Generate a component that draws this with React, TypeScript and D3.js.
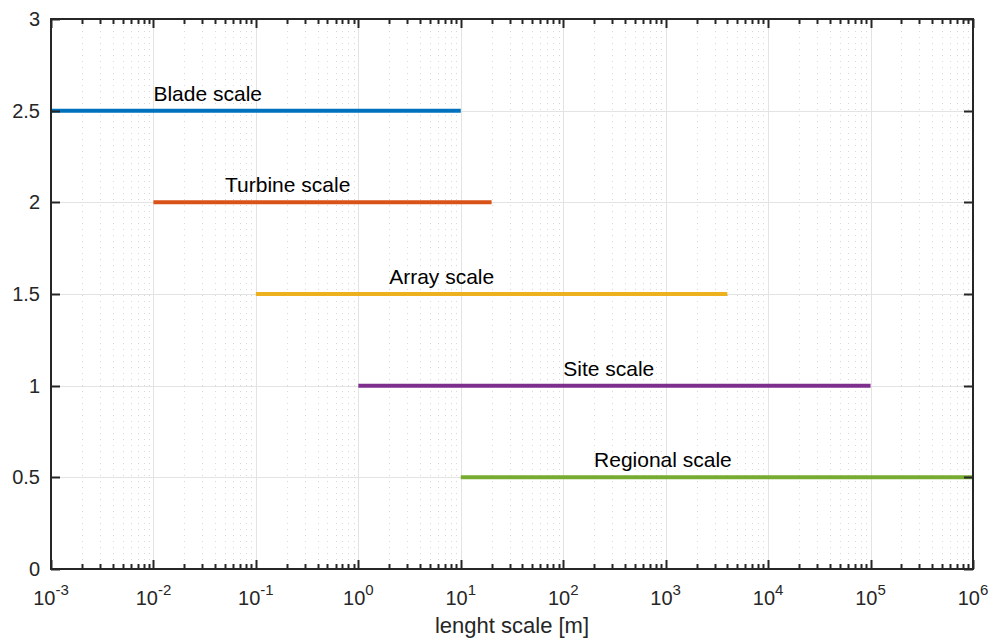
import * as d3 from "d3";
import React from "react";

// values
const scaleNames = ["Blade scale", "Turbine scale", "Array scale", "Site scale", "Regional scale"];
const levels = [2.5, 2, 1.5, 1, 0.5];
const startM = [1e-3, 1e-2, 1e-1, 1, 10];
const endM = [10, 20, 4000, 1e5, 1e6];
const labelAt = [0.01, 0.05, 2, 100, 200];
const colors = ["#0072BD", "#D95319", "#EDB120", "#7E2F8E", "#77AC30"];
const yTicks = [0, 0.5, 1, 1.5, 2, 2.5, 3];
const decades = [-3, -2, -1, 0, 1, 2, 3, 4, 5, 6];

const W = 991;
const H = 639;
const margin = { top: 19, right: 18, bottom: 70, left: 51 };
const font = "'Liberation Sans', Arial, sans-serif";

export default function App() {
	const x = d3
		.scaleLog()
		.domain([1e-3, 1e6])
		.range([margin.left, W - margin.right]);
	const y = d3
		.scaleLinear()
		.domain([0, 3])
		.range([H - margin.bottom, margin.top]);

	const x0 = margin.left;
	const x1 = W - margin.right;
	const y0 = H - margin.bottom;
	const y1 = margin.top;

	const minors: number[] = [];
	decades.slice(0, -1).forEach((e) => {
		for (let k = 2; k <= 9; k++) minors.push(k * Math.pow(10, e));
	});

	return (
		<svg
			width={W}
			height={H}
			style={{ position: "absolute", left: 0, top: 0, background: "#fff" }}
			fontFamily={font}
		>
			{/* minor grid */}
			<g stroke="#d8d8d8" strokeWidth={1} strokeDasharray="1,5">
				{minors.map((m) => (
					<line key={m} x1={Math.round(x(m)) + 0.5} x2={Math.round(x(m)) + 0.5} y1={y1} y2={y0} />
				))}
			</g>
			{/* major grid */}
			<g stroke="#e3e3e3" strokeWidth={1}>
				{decades.map((e) => (
					<line key={e} x1={Math.round(x(Math.pow(10, e))) + 0.5} x2={Math.round(x(Math.pow(10, e))) + 0.5} y1={y1} y2={y0} />
				))}
				{yTicks.map((t) => (
					<line key={t} x1={x0} x2={x1} y1={Math.round(y(t)) + 0.5} y2={Math.round(y(t)) + 0.5} />
				))}
			</g>

			{/* scale bars */}
			{scaleNames.map((name, i) => (
				<g key={name}>
					<line
						x1={x(startM[i])}
						x2={x(endM[i])}
						y1={y(levels[i])}
						y2={y(levels[i])}
						stroke={colors[i]}
						strokeWidth={4}
					/>
					<text x={x(labelAt[i])} y={y(levels[i]) - 10} fontSize={21} fill="#000">
						{name}
					</text>
				</g>
			))}

			{/* axes box and ticks */}
			<g stroke="#262626" strokeWidth={2}>
				{minors.map((m) => {
					const px = Math.round(x(m)) + 0.5;
					return (
						<g key={m}>
							<line x1={px} x2={px} y1={y0} y2={y0 - 5} />
							<line x1={px} x2={px} y1={y1} y2={y1 + 5} />
						</g>
					);
				})}
				{decades.map((e) => {
					const px = Math.round(x(Math.pow(10, e))) + 0.5;
					return (
						<g key={e}>
							<line x1={px} x2={px} y1={y0} y2={y0 - 9} />
							<line x1={px} x2={px} y1={y1} y2={y1 + 9} />
						</g>
					);
				})}
				{yTicks.map((t) => {
					const py = Math.round(y(t)) + 0.5;
					return (
						<g key={t}>
							<line x1={x0} x2={x0 + 9} y1={py} y2={py} />
							<line x1={x1} x2={x1 - 9} y1={py} y2={py} />
						</g>
					);
				})}
				<rect x={x0} y={y1} width={x1 - x0} height={y0 - y1} fill="none" />
			</g>

			{/* tick labels */}
			<g fill="#262626" fontSize={20}>
				{yTicks.map((t) => (
					<text key={t} x={x0 - 11} y={y(t)} textAnchor="end" dominantBaseline="central">
						{d3.format("~g")(t)}
					</text>
				))}
				{decades.map((e) => (
					<text key={e} x={x(Math.pow(10, e))} y={y0 + 36} textAnchor="middle">
						10
						<tspan dy={-10} fontSize={15}>
							{e}
						</tspan>
					</text>
				))}
			</g>
			<text x={(x0 + x1) / 2} y={H - 6} textAnchor="middle" fontSize={22} fill="#262626">
				lenght scale [m]
			</text>
		</svg>
	);
}
